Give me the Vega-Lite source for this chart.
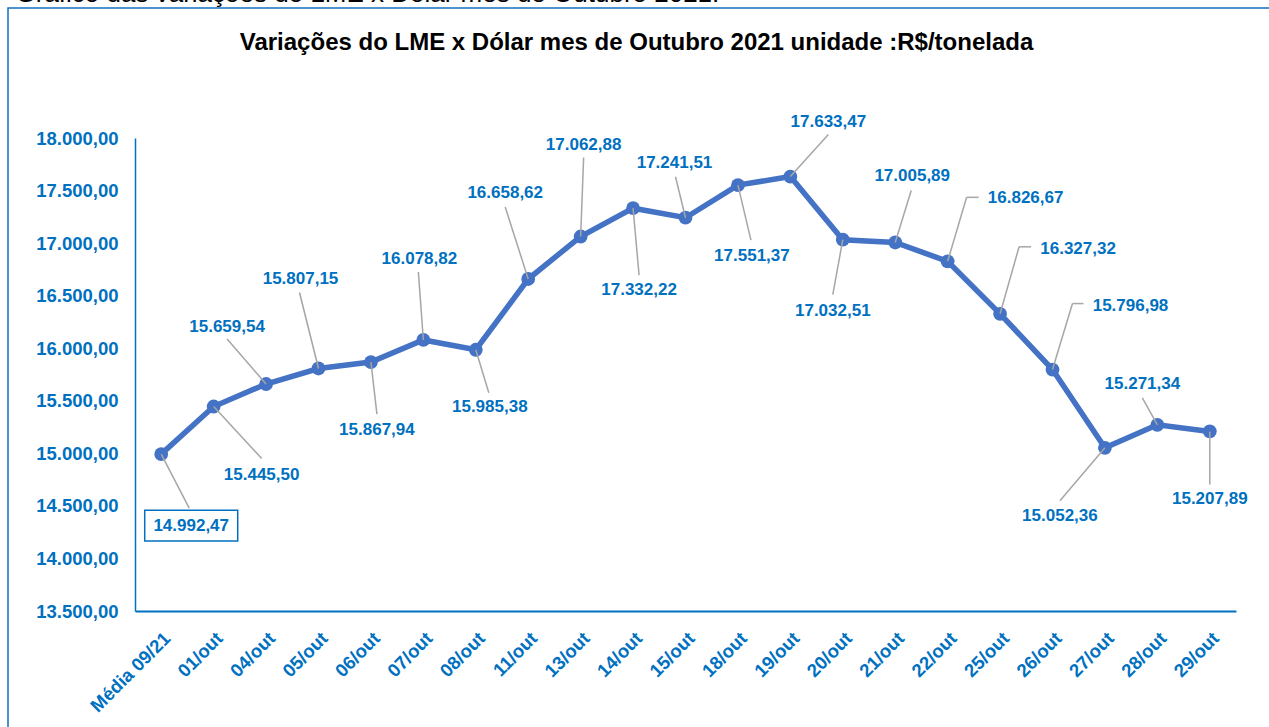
{
  "$schema": "https://vega.github.io/schema/vega-lite/v6.json",
  "width": 1265,
  "height": 725,
  "autosize": {"type": "none"},
  "padding": {"left": 8, "top": 8, "right": 0, "bottom": 0},
  "background": "white",
  "config": {
    "locale": {"number": {"decimal": ",", "thousands": ".", "grouping": [3], "currency": ["R$", ""]}},
    "view": {"stroke": "#1272C2", "strokeWidth": 1.5},
    "font": "Liberation Sans"
  },
  "title": {
    "text": "Variações do LME x Dólar mes de Outubro 2021 unidade :R$/tonelada",
    "anchor": "middle",
    "frame": "group",
    "offset": -43,
    "baseline": "alphabetic",
    "dx": -4,
    "dy": 51,
    "font": "Liberation Sans",
    "fontSize": 24,
    "fontWeight": "bold",
    "color": "#000000"
  },
  "data": {
    "values": [
      {"d": "Média 09/21", "v": 14992.47},
      {"d": "01/out", "v": 15445.50},
      {"d": "04/out", "v": 15659.54},
      {"d": "05/out", "v": 15807.15},
      {"d": "06/out", "v": 15867.94},
      {"d": "07/out", "v": 16078.82},
      {"d": "08/out", "v": 15985.38},
      {"d": "11/out", "v": 16658.62},
      {"d": "13/out", "v": 17062.88},
      {"d": "14/out", "v": 17332.22},
      {"d": "15/out", "v": 17241.51},
      {"d": "18/out", "v": 17551.37},
      {"d": "19/out", "v": 17633.47},
      {"d": "20/out", "v": 17032.51},
      {"d": "21/out", "v": 17005.89},
      {"d": "22/out", "v": 16826.67},
      {"d": "25/out", "v": 16327.32},
      {"d": "26/out", "v": 15796.98},
      {"d": "27/out", "v": 15052.36},
      {"d": "28/out", "v": 15271.34},
      {"d": "29/out", "v": 15207.89}
    ]
  },
  "encoding": {
    "x": {
      "field": "d", "type": "nominal", "sort": null,
      "scale": {"type": "band", "range": [127, 1228], "paddingInner": 0, "paddingOuter": 0},
      "axis": {
        "orient": "bottom", "offset": -122, "title": null,
        "labelAngle": -45, "labelAlign": "right", "labelBaseline": "middle",
        "labelPadding": 24, "labelOffset": 6, "ticks": false,
        "domainColor": "#0070C0", "domainWidth": 2,
        "labelColor": "#0070C0", "labelFont": "Liberation Sans", "labelFontSize": 18.5, "labelFontWeight": "bold",
        "labelOverlap": false, "grid": false
      }
    },
    "y": {
      "field": "v", "type": "quantitative",
      "scale": {"domain": [13500, 18000], "range": [603, 130], "zero": false, "nice": false},
      "axis": {
        "offset": -127,
        "values": [13500, 14000, 14500, 15000, 15500, 16000, 16500, 17000, 17500, 18000],
        "format": ",.2f", "ticks": false, "labelPadding": 17, "grid": false,
        "domainColor": "#0070C0", "domainWidth": 1.5,
        "labelColor": "#0070C0", "labelFont": "Liberation Sans", "labelFontSize": 18.5, "labelFontWeight": "bold",
        "labelOverlap": false, "labelFlush": false,
        "title": "Gráfico das variações do LME x Dólar mes de Outubro 2021:",
        "titleAngle": 0, "titleAlign": "left", "titleBaseline": "alphabetic",
        "titleX": -120, "titleY": -7,
        "titleFont": "Liberation Sans", "titleFontSize": 26, "titleFontWeight": "normal", "titleColor": "#000000"
      }
    }
  },
  "layer": [
    {"mark": {"type": "line", "color": "#4472C4", "strokeWidth": 5.5}},
    {"mark": {"type": "point", "filled": true, "opacity": 1, "color": "#4472C4", "size": 190, "shape": "circle"}},

    {"transform": [{"filter": "datum.d == 'Média 09/21'"}], "mark": {"type": "rule", "color": "#A6A6A6", "strokeWidth": 1.5, "x2Offset": 28, "y2Offset": 54}, "encoding": {"x2": {"field": "d"}, "y2": {"field": "v"}}},
    {"transform": [{"filter": "datum.d == '01/out'"}], "mark": {"type": "rule", "color": "#A6A6A6", "strokeWidth": 1.5, "x2Offset": 48, "y2Offset": 52}, "encoding": {"x2": {"field": "d"}, "y2": {"field": "v"}}},
    {"transform": [{"filter": "datum.d == '04/out'"}], "mark": {"type": "rule", "color": "#A6A6A6", "strokeWidth": 1.5, "x2Offset": -39, "y2Offset": -45}, "encoding": {"x2": {"field": "d"}, "y2": {"field": "v"}}},
    {"transform": [{"filter": "datum.d == '05/out'"}], "mark": {"type": "rule", "color": "#A6A6A6", "strokeWidth": 1.5, "x2Offset": -19, "y2Offset": -76}, "encoding": {"x2": {"field": "d"}, "y2": {"field": "v"}}},
    {"transform": [{"filter": "datum.d == '06/out'"}], "mark": {"type": "rule", "color": "#A6A6A6", "strokeWidth": 1.5, "x2Offset": 6, "y2Offset": 52}, "encoding": {"x2": {"field": "d"}, "y2": {"field": "v"}}},
    {"transform": [{"filter": "datum.d == '07/out'"}], "mark": {"type": "rule", "color": "#A6A6A6", "strokeWidth": 1.5, "x2Offset": -5, "y2Offset": -68}, "encoding": {"x2": {"field": "d"}, "y2": {"field": "v"}}},
    {"transform": [{"filter": "datum.d == '08/out'"}], "mark": {"type": "rule", "color": "#A6A6A6", "strokeWidth": 1.5, "x2Offset": 13, "y2Offset": 43}, "encoding": {"x2": {"field": "d"}, "y2": {"field": "v"}}},
    {"transform": [{"filter": "datum.d == '11/out'"}], "mark": {"type": "rule", "color": "#A6A6A6", "strokeWidth": 1.5, "x2Offset": -23, "y2Offset": -72}, "encoding": {"x2": {"field": "d"}, "y2": {"field": "v"}}},
    {"transform": [{"filter": "datum.d == '13/out'"}], "mark": {"type": "rule", "color": "#A6A6A6", "strokeWidth": 1.5, "x2Offset": 3, "y2Offset": -79}, "encoding": {"x2": {"field": "d"}, "y2": {"field": "v"}}},
    {"transform": [{"filter": "datum.d == '14/out'"}], "mark": {"type": "rule", "color": "#A6A6A6", "strokeWidth": 1.5, "x2Offset": 6, "y2Offset": 67}, "encoding": {"x2": {"field": "d"}, "y2": {"field": "v"}}},
    {"transform": [{"filter": "datum.d == '15/out'"}], "mark": {"type": "rule", "color": "#A6A6A6", "strokeWidth": 1.5, "x2Offset": -10, "y2Offset": -41}, "encoding": {"x2": {"field": "d"}, "y2": {"field": "v"}}},
    {"transform": [{"filter": "datum.d == '18/out'"}], "mark": {"type": "rule", "color": "#A6A6A6", "strokeWidth": 1.5, "x2Offset": 13, "y2Offset": 55}, "encoding": {"x2": {"field": "d"}, "y2": {"field": "v"}}},
    {"transform": [{"filter": "datum.d == '19/out'"}], "mark": {"type": "rule", "color": "#A6A6A6", "strokeWidth": 1.5, "x2Offset": 38, "y2Offset": -42}, "encoding": {"x2": {"field": "d"}, "y2": {"field": "v"}}},
    {"transform": [{"filter": "datum.d == '20/out'"}], "mark": {"type": "rule", "color": "#A6A6A6", "strokeWidth": 1.5, "x2Offset": -10, "y2Offset": 55}, "encoding": {"x2": {"field": "d"}, "y2": {"field": "v"}}},
    {"transform": [{"filter": "datum.d == '21/out'"}], "mark": {"type": "rule", "color": "#A6A6A6", "strokeWidth": 1.5, "x2Offset": 16, "y2Offset": -52}, "encoding": {"x2": {"field": "d"}, "y2": {"field": "v"}}},
    {"transform": [{"filter": "datum.d == '22/out'"}], "mark": {"type": "rule", "color": "#A6A6A6", "strokeWidth": 1.5, "x2Offset": 19, "y2Offset": -64}, "encoding": {"x2": {"field": "d"}, "y2": {"field": "v"}}},
    {"transform": [{"filter": "datum.d == '22/out'"}], "mark": {"type": "rule", "color": "#A6A6A6", "strokeWidth": 1.5, "xOffset": 19, "yOffset": -64, "x2Offset": 31, "y2Offset": -64}, "encoding": {"x2": {"field": "d"}, "y2": {"field": "v"}}},
    {"transform": [{"filter": "datum.d == '25/out'"}], "mark": {"type": "rule", "color": "#A6A6A6", "strokeWidth": 1.5, "x2Offset": 19, "y2Offset": -67}, "encoding": {"x2": {"field": "d"}, "y2": {"field": "v"}}},
    {"transform": [{"filter": "datum.d == '25/out'"}], "mark": {"type": "rule", "color": "#A6A6A6", "strokeWidth": 1.5, "xOffset": 19, "yOffset": -67, "x2Offset": 31, "y2Offset": -67}, "encoding": {"x2": {"field": "d"}, "y2": {"field": "v"}}},
    {"transform": [{"filter": "datum.d == '26/out'"}], "mark": {"type": "rule", "color": "#A6A6A6", "strokeWidth": 1.5, "x2Offset": 20, "y2Offset": -66}, "encoding": {"x2": {"field": "d"}, "y2": {"field": "v"}}},
    {"transform": [{"filter": "datum.d == '26/out'"}], "mark": {"type": "rule", "color": "#A6A6A6", "strokeWidth": 1.5, "xOffset": 20, "yOffset": -66, "x2Offset": 31, "y2Offset": -66}, "encoding": {"x2": {"field": "d"}, "y2": {"field": "v"}}},
    {"transform": [{"filter": "datum.d == '27/out'"}], "mark": {"type": "rule", "color": "#A6A6A6", "strokeWidth": 1.5, "x2Offset": -45, "y2Offset": 53}, "encoding": {"x2": {"field": "d"}, "y2": {"field": "v"}}},
    {"transform": [{"filter": "datum.d == '28/out'"}], "mark": {"type": "rule", "color": "#A6A6A6", "strokeWidth": 1.5, "x2Offset": -15, "y2Offset": -27}, "encoding": {"x2": {"field": "d"}, "y2": {"field": "v"}}},
    {"transform": [{"filter": "datum.d == '29/out'"}], "mark": {"type": "rule", "color": "#A6A6A6", "strokeWidth": 1.5, "x2Offset": 0, "y2Offset": 53}, "encoding": {"x2": {"field": "d"}, "y2": {"field": "v"}}},

    {"transform": [{"filter": "datum.d == 'Média 09/21'"}], "mark": {"type": "point", "shape": "M-1,-0.333H1V0.333H-1Z", "size": 8649, "filled": false, "stroke": "#0070C0", "strokeWidth": 1.5, "opacity": 1, "fill": "white", "xOffset": 30, "yOffset": 71.5}},

    {"transform": [{"filter": "datum.d == 'Média 09/21'"}], "mark": {"type": "text", "dx": 30, "dy": 72, "fontSize": 17, "fontWeight": "bold", "color": "#0070C0", "font": "Liberation Sans"}, "encoding": {"text": {"field": "v", "type": "quantitative", "format": ",.2f"}}},
    {"transform": [{"filter": "datum.d == '01/out'"}], "mark": {"type": "text", "dx": 48, "dy": 68, "fontSize": 17, "fontWeight": "bold", "color": "#0070C0", "font": "Liberation Sans"}, "encoding": {"text": {"field": "v", "type": "quantitative", "format": ",.2f"}}},
    {"transform": [{"filter": "datum.d == '04/out'"}], "mark": {"type": "text", "dx": -39, "dy": -57, "fontSize": 17, "fontWeight": "bold", "color": "#0070C0", "font": "Liberation Sans"}, "encoding": {"text": {"field": "v", "type": "quantitative", "format": ",.2f"}}},
    {"transform": [{"filter": "datum.d == '05/out'"}], "mark": {"type": "text", "dx": -18, "dy": -89, "fontSize": 17, "fontWeight": "bold", "color": "#0070C0", "font": "Liberation Sans"}, "encoding": {"text": {"field": "v", "type": "quantitative", "format": ",.2f"}}},
    {"transform": [{"filter": "datum.d == '06/out'"}], "mark": {"type": "text", "dx": 6, "dy": 68, "fontSize": 17, "fontWeight": "bold", "color": "#0070C0", "font": "Liberation Sans"}, "encoding": {"text": {"field": "v", "type": "quantitative", "format": ",.2f"}}},
    {"transform": [{"filter": "datum.d == '07/out'"}], "mark": {"type": "text", "dx": -4, "dy": -81, "fontSize": 17, "fontWeight": "bold", "color": "#0070C0", "font": "Liberation Sans"}, "encoding": {"text": {"field": "v", "type": "quantitative", "format": ",.2f"}}},
    {"transform": [{"filter": "datum.d == '08/out'"}], "mark": {"type": "text", "dx": 14, "dy": 57, "fontSize": 17, "fontWeight": "bold", "color": "#0070C0", "font": "Liberation Sans"}, "encoding": {"text": {"field": "v", "type": "quantitative", "format": ",.2f"}}},
    {"transform": [{"filter": "datum.d == '11/out'"}], "mark": {"type": "text", "dx": -23, "dy": -86, "fontSize": 17, "fontWeight": "bold", "color": "#0070C0", "font": "Liberation Sans"}, "encoding": {"text": {"field": "v", "type": "quantitative", "format": ",.2f"}}},
    {"transform": [{"filter": "datum.d == '13/out'"}], "mark": {"type": "text", "dx": 3, "dy": -92, "fontSize": 17, "fontWeight": "bold", "color": "#0070C0", "font": "Liberation Sans"}, "encoding": {"text": {"field": "v", "type": "quantitative", "format": ",.2f"}}},
    {"transform": [{"filter": "datum.d == '14/out'"}], "mark": {"type": "text", "dx": 6, "dy": 82, "fontSize": 17, "fontWeight": "bold", "color": "#0070C0", "font": "Liberation Sans"}, "encoding": {"text": {"field": "v", "type": "quantitative", "format": ",.2f"}}},
    {"transform": [{"filter": "datum.d == '15/out'"}], "mark": {"type": "text", "dx": -11, "dy": -55, "fontSize": 17, "fontWeight": "bold", "color": "#0070C0", "font": "Liberation Sans"}, "encoding": {"text": {"field": "v", "type": "quantitative", "format": ",.2f"}}},
    {"transform": [{"filter": "datum.d == '18/out'"}], "mark": {"type": "text", "dx": 14, "dy": 71, "fontSize": 17, "fontWeight": "bold", "color": "#0070C0", "font": "Liberation Sans"}, "encoding": {"text": {"field": "v", "type": "quantitative", "format": ",.2f"}}},
    {"transform": [{"filter": "datum.d == '19/out'"}], "mark": {"type": "text", "dx": 38, "dy": -55, "fontSize": 17, "fontWeight": "bold", "color": "#0070C0", "font": "Liberation Sans"}, "encoding": {"text": {"field": "v", "type": "quantitative", "format": ",.2f"}}},
    {"transform": [{"filter": "datum.d == '20/out'"}], "mark": {"type": "text", "dx": -10, "dy": 71, "fontSize": 17, "fontWeight": "bold", "color": "#0070C0", "font": "Liberation Sans"}, "encoding": {"text": {"field": "v", "type": "quantitative", "format": ",.2f"}}},
    {"transform": [{"filter": "datum.d == '21/out'"}], "mark": {"type": "text", "dx": 17, "dy": -66, "fontSize": 17, "fontWeight": "bold", "color": "#0070C0", "font": "Liberation Sans"}, "encoding": {"text": {"field": "v", "type": "quantitative", "format": ",.2f"}}},
    {"transform": [{"filter": "datum.d == '22/out'"}], "mark": {"type": "text", "dx": 78, "dy": -63, "fontSize": 17, "fontWeight": "bold", "color": "#0070C0", "font": "Liberation Sans"}, "encoding": {"text": {"field": "v", "type": "quantitative", "format": ",.2f"}}},
    {"transform": [{"filter": "datum.d == '25/out'"}], "mark": {"type": "text", "dx": 78, "dy": -65, "fontSize": 17, "fontWeight": "bold", "color": "#0070C0", "font": "Liberation Sans"}, "encoding": {"text": {"field": "v", "type": "quantitative", "format": ",.2f"}}},
    {"transform": [{"filter": "datum.d == '26/out'"}], "mark": {"type": "text", "dx": 78, "dy": -64, "fontSize": 17, "fontWeight": "bold", "color": "#0070C0", "font": "Liberation Sans"}, "encoding": {"text": {"field": "v", "type": "quantitative", "format": ",.2f"}}},
    {"transform": [{"filter": "datum.d == '27/out'"}], "mark": {"type": "text", "dx": -45, "dy": 68, "fontSize": 17, "fontWeight": "bold", "color": "#0070C0", "font": "Liberation Sans"}, "encoding": {"text": {"field": "v", "type": "quantitative", "format": ",.2f"}}},
    {"transform": [{"filter": "datum.d == '28/out'"}], "mark": {"type": "text", "dx": -15, "dy": -41, "fontSize": 17, "fontWeight": "bold", "color": "#0070C0", "font": "Liberation Sans"}, "encoding": {"text": {"field": "v", "type": "quantitative", "format": ",.2f"}}},
    {"transform": [{"filter": "datum.d == '29/out'"}], "mark": {"type": "text", "dx": 0, "dy": 68, "fontSize": 17, "fontWeight": "bold", "color": "#0070C0", "font": "Liberation Sans"}, "encoding": {"text": {"field": "v", "type": "quantitative", "format": ",.2f"}}}
  ]
}
